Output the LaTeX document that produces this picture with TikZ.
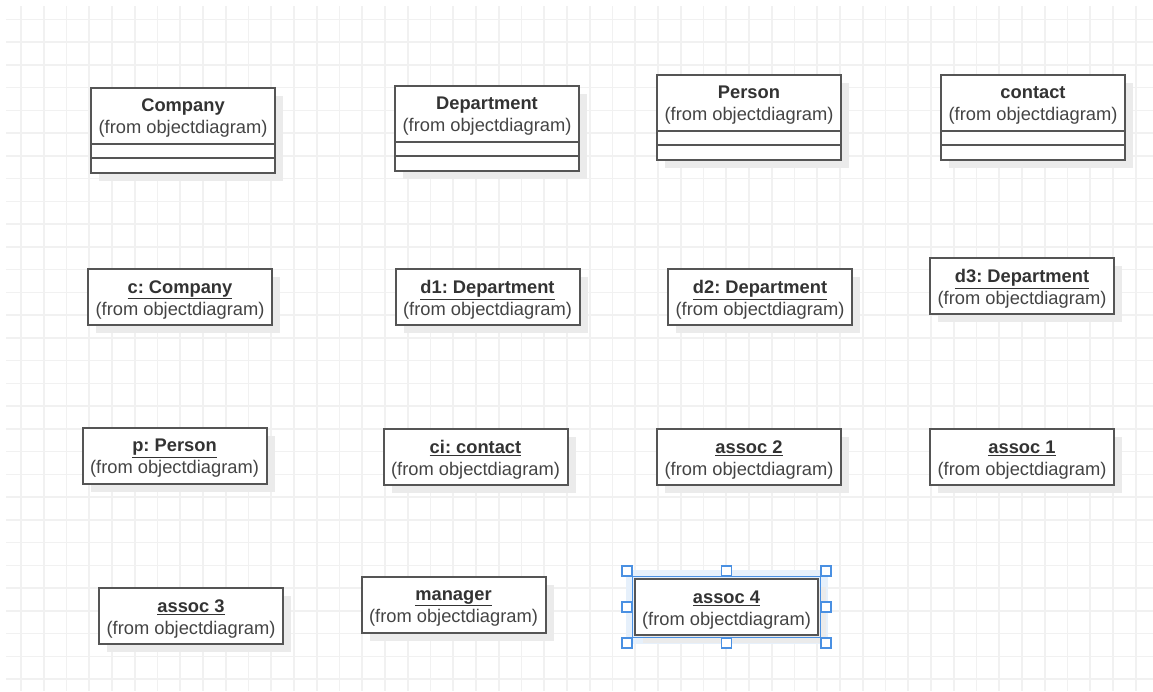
\documentclass[tikz,border=0pt]{standalone}
\usepackage{fontspec}
\setmainfont{Liberation Sans}
\usetikzlibrary{calc,shadows}
\definecolor{gridc}{HTML}{F1F1F1}
\definecolor{boxborder}{HTML}{555555}
\definecolor{txt}{HTML}{333333}
\definecolor{subtxt}{HTML}{444444}
\definecolor{shade}{HTML}{EBEBEB}
\definecolor{selblue}{HTML}{4A90E2}
\definecolor{glow}{HTML}{E6F0FB}
\tikzset{
  x=1pt, y=-1pt,
  gridline/.style={draw=gridc, line width=1.6pt},
  umlbox/.style={draw=boxborder, line width=2pt, fill=white, rectangle,
     minimum width=184pt, inner sep=0pt,
     drop shadow={shadow xshift=8pt, shadow yshift=-8pt, fill=shade, opacity=1}},
  objbox/.style={umlbox, minimum height=56pt},
  classbox/.style={umlbox, minimum height=85pt},
  boxtext/.style={text=txt, align=center, inner sep=0pt, font=\fontsize{18.3}{22}\selectfont},
  sepline/.style={draw=boxborder, line width=2pt},
  handle/.style={draw=selblue, line width=1.2pt, fill=white, rectangle, minimum size=10pt, inner sep=0pt},
}
\newcommand{\objname}[1]{\underline{\textbf{#1}}}
\newcommand{\fromod}{\textcolor{subtxt}{(from objectdiagram)}}
\newcommand{\umlclass}[4]{%
  \node[classbox] (#1) at (#2,#3+42.5) {};
  \node[boxtext] (#1-name) at ($(#1.north)+(0,31)$) {\textbf{#4}\\\fromod};
  \draw[sepline] ($(#1.north west)+(0,57)$) -- ($(#1.north east)+(0,57)$);
  \draw[sepline] ($(#1.north west)+(0,71)$) -- ($(#1.north east)+(0,71)$);
}
\newcommand{\umlobj}[5][objbox]{%
  \node[#1] (#2) at (#3,#4) {};
  \node[boxtext] (#2-name) at ($(#2.center)+(0,3)$) {\objname{#5}\\\fromod};
}
\frenchspacing
\begin{document}
\begin{tikzpicture}
\useasboundingbox (0,0) rectangle (1153,691);
\fill[white] (0,0) rectangle (1153,691);
% grid
\foreach \i in {0,...,49} {
  \draw[gridline] ({21+22.75*\i},6) -- ({21+22.75*\i},691);
}
\foreach \j in {0,...,29} {
  \draw[gridline] (6,{19.3+22.75*\j}) -- (1153,{19.3+22.75*\j});
}
% row 1: classes
\umlclass{company}{183}{88}{Company}
\umlclass{department}{487}{86}{Department}
\umlclass{person}{749}{75}{Person}
\umlclass{contact}{1033}{75}{contact}
% row 2
\umlobj{c}{180}{297}{c: Company}
\umlobj{d1}{487.5}{297}{d1: Department}
\umlobj{d2}{760}{297}{d2: Department}
\umlobj{d3}{1022}{286}{d3: Department}
% row 3
\umlobj{p}{174.5}{455.5}{p: Person}
\umlobj{ci}{475.5}{457}{ci: contact}
\umlobj{a2}{749}{457}{assoc 2}
\umlobj{a1}{1022}{457}{assoc 1}
% row 4
\umlobj{a3}{191}{616}{assoc 3}
\umlobj{mgr}{453.5}{605}{manager}
% selected assoc 4
\fill[glow] (626,570) rectangle (828,644);
\umlobj[objbox, minimum width=183pt]{a4}{726.5}{607}{assoc 4}
\draw[selblue, line width=1pt] ($(a4.north west)+(-1.5,-1.5)$) rectangle ($(a4.south east)+(1.5,1.5)$);
\node[handle] (h1) at ($(a4.north west)+(-7,-7)$) {};
\node[handle] (h2) at ($(a4.north)+(0,-7)$) {};
\node[handle] (h3) at ($(a4.north east)+(7,-7)$) {};
\node[handle] (h4) at ($(a4.west)+(-7,0)$) {};
\node[handle] (h5) at ($(a4.east)+(7,0)$) {};
\node[handle] (h6) at ($(a4.south west)+(-7,7)$) {};
\node[handle] (h7) at ($(a4.south)+(0,7)$) {};
\node[handle] (h8) at ($(a4.south east)+(7,7)$) {};
\end{tikzpicture}
\end{document}
